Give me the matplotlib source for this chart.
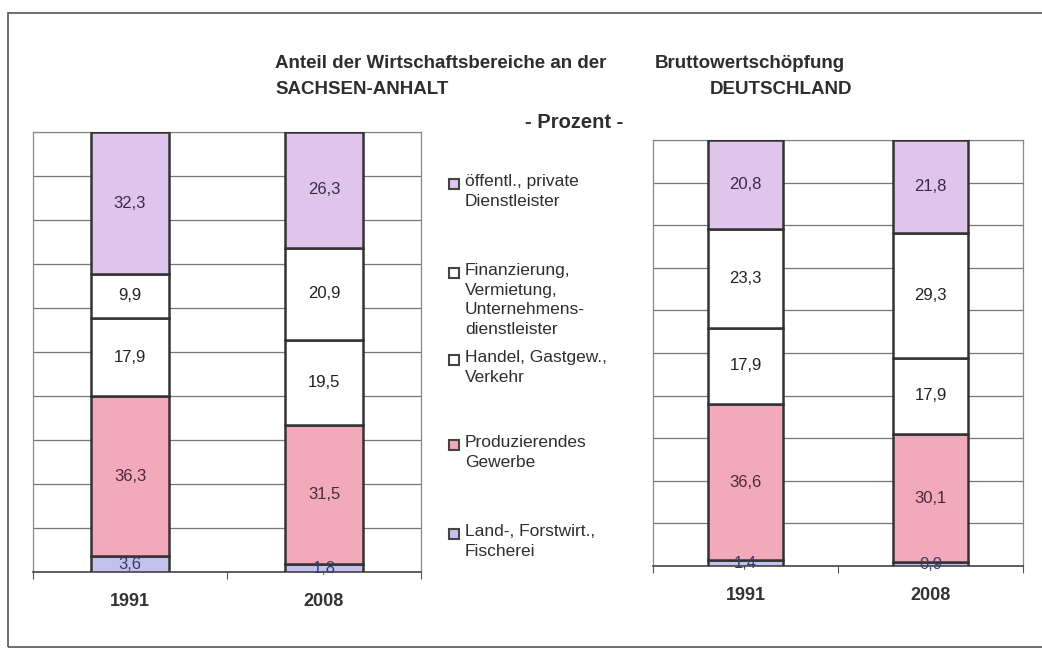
import matplotlib.pyplot as plt
import matplotlib.patches as mpatches
import numpy as np

plt.rcParams['font.family'] = ['Liberation Sans', 'DejaVu Sans']

# data
years = ["1991", "2008"]
sectors = [
    "Land-, Forstwirt.,\nFischerei",
    "Produzierendes\nGewerbe",
    "Handel, Gastgew.,\nVerkehr",
    "Finanzierung,\nVermietung,\nUnternehmens-\ndienstleister",
    "öffentl., private\nDienstleister",
]
sachsen_anhalt = [
    [3.6, 1.8],
    [36.3, 31.5],
    [17.9, 19.5],
    [9.9, 20.9],
    [32.3, 26.3],
]
deutschland = [
    [1.4, 0.9],
    [36.6, 30.1],
    [17.9, 17.9],
    [23.3, 29.3],
    [20.8, 21.8],
]
colors = ["#c4c2ec", "#f2a9b9", "#ffffff", "#ffffff", "#dfc4ec"]
label_colors = ["#3a3a6a", "#4a2a3a", "#222222", "#222222", "#3a2a44"]

fig = plt.figure(figsize=(10.42, 6.48), dpi=100)


def draw_chart(rect, values, width):
    ax = fig.add_axes(rect)
    x = np.arange(len(years))
    bottom = np.zeros(len(years))
    for i, vals in enumerate(values):
        vals = np.array(vals)
        ax.bar(x, vals, width=width, bottom=bottom, color=colors[i],
               edgecolor="#333333", linewidth=1.8, zorder=3)
        for xi, v, b in zip(x, vals, bottom):
            ax.text(xi, b + v / 2, f"{v:.1f}".replace(".", ","), ha="center",
                    va="center", fontsize=12, color=label_colors[i], zorder=4)
        bottom += vals
    ax.set_xlim(-0.5, 1.5)
    ax.set_ylim(0, 100)
    ax.set_yticks(np.arange(0, 101, 10))
    ax.yaxis.grid(True, color="#777777", linewidth=0.9, zorder=0)
    ax.tick_params(axis="y", left=False, labelleft=False)
    ax.set_xticks([-0.5, 0.5, 1.5], minor=False)
    ax.set_xticklabels([])
    ax.set_xticks(x, minor=True)
    ax.set_xticklabels(years, minor=True, fontsize=13, fontweight="bold",
                       color="#333333")
    ax.tick_params(axis="x", which="major", direction="out", length=5,
                   color="#555555")
    ax.tick_params(axis="x", which="minor", length=0, pad=15)
    for s in ["left", "right", "top"]:
        ax.spines[s].set_color("#888888")
        ax.spines[s].set_linewidth(0.9)
    ax.spines["bottom"].set_color("#444444")
    ax.spines["bottom"].set_linewidth(1.2)
    return ax


W, H = 1042, 648


def frac(x0, y0, x1, y1):
    return [x0 / W, 1 - y1 / H, (x1 - x0) / W, (y1 - y0) / H]


draw_chart(frac(33, 132, 421, 572), sachsen_anhalt, 0.40)
draw_chart(frac(653, 140, 1023, 566), deutschland, 0.41)

# titles
tc = "#2e2e2e"
fig.text(275 / W, 1 - 64 / H, "Anteil der Wirtschaftsbereiche an der",
         fontsize=13.5, fontweight="bold", color=tc, va="center")
fig.text(655 / W, 1 - 64 / H, "Bruttowertschöpfung", fontsize=13.5,
         fontweight="bold", color=tc, va="center")
fig.text(275 / W, 1 - 89 / H, "SACHSEN-ANHALT", fontsize=13.5,
         fontweight="bold", color=tc, va="center")
fig.text(852 / W, 1 - 89 / H, "DEUTSCHLAND", fontsize=13.5,
         fontweight="bold", color=tc, va="center", ha="right")
fig.text(574 / W, 1 - 122 / H, "- Prozent -", fontsize=14.5,
         fontweight="bold", color=tc, va="center", ha="center")

# legend (top entry first)
legend_y = [534, 445, 360, 273, 184]
for name, col, ly in zip(sectors, colors, legend_y):
    fig.patches.append(mpatches.Rectangle(
        (449 / W, 1 - (ly + 5) / H), 10 / W, 10 / H, transform=fig.transFigure,
        facecolor=col, edgecolor="#444444", linewidth=1.5))
    fig.text(465 / W, 1 - (ly - 10) / H, name, fontsize=12.5, color=tc,
             va="top", ha="left", linespacing=1.39)

# outer frame
fig.patches.append(mpatches.Rectangle(
    (8 / W, 1 - 647 / H), 1.1, (647 - 13) / H, transform=fig.transFigure,
    fill=False, edgecolor="#555555", linewidth=1.2))

fig.savefig("out.png", dpi=100)
